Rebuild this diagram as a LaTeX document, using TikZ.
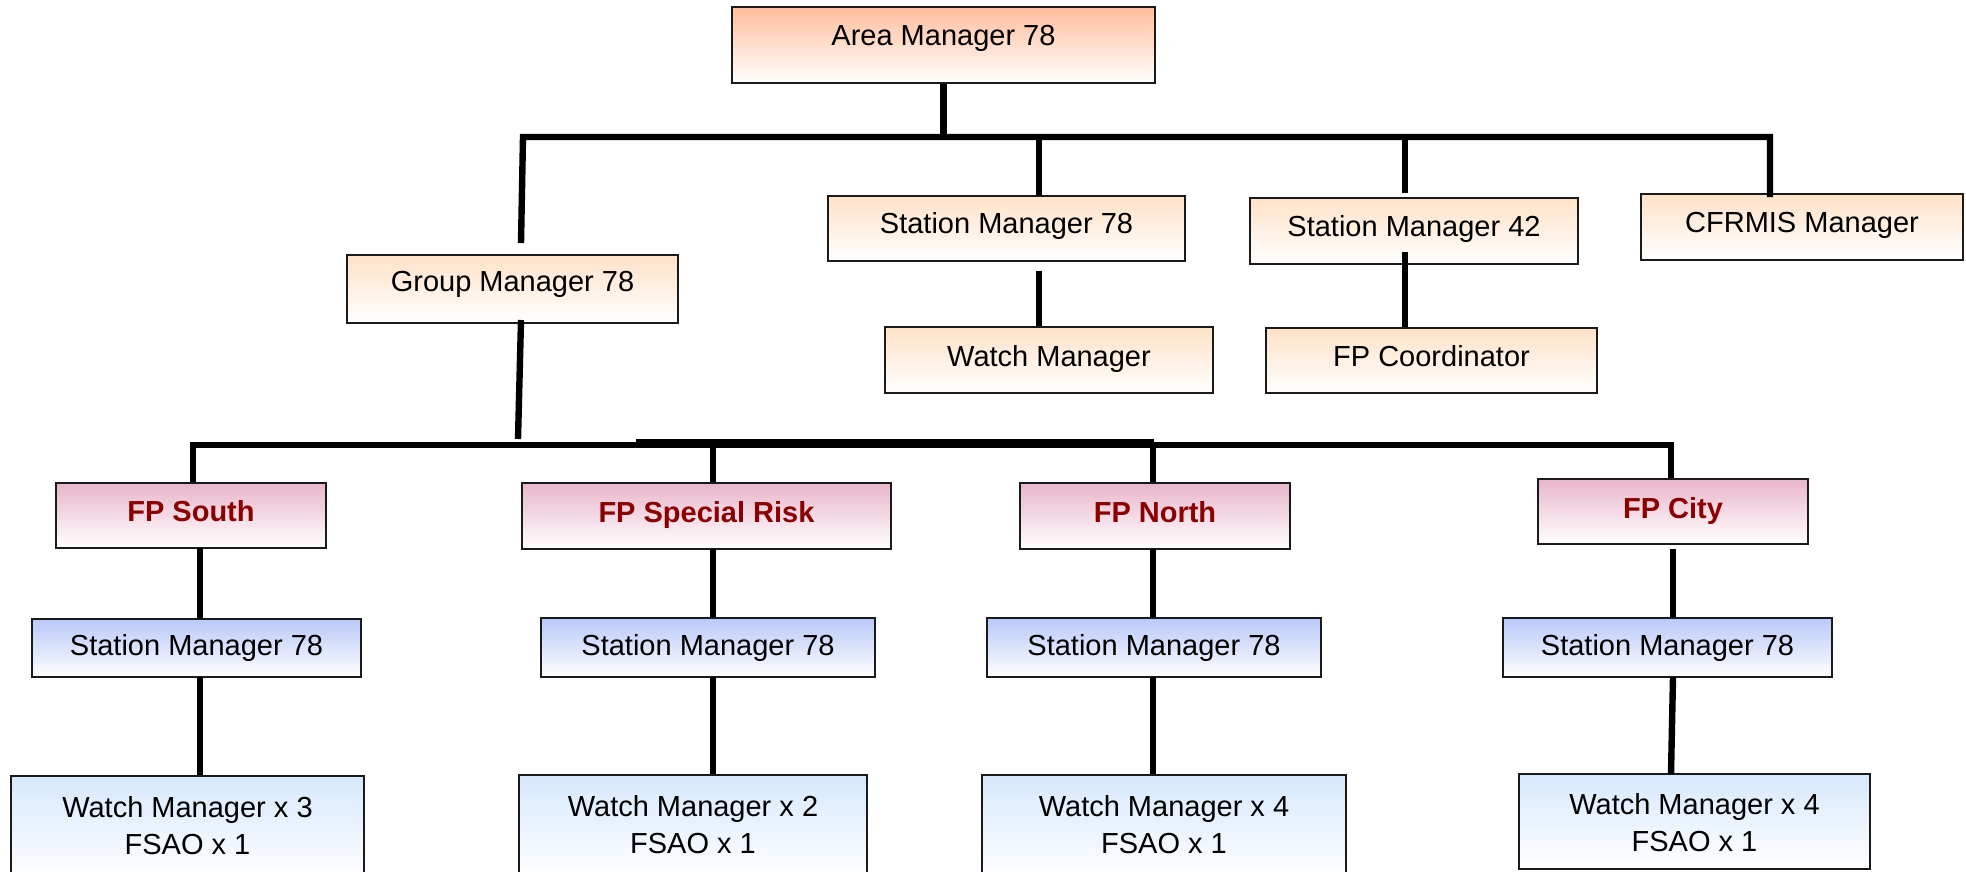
\documentclass[tikz,border=0pt]{standalone}
\usepackage{fontspec}
\setmainfont{Liberation Sans}
\definecolor{amtop}{HTML}{FFBE9C}
\definecolor{peach}{HTML}{FFE2C8}
\definecolor{fppink}{HTML}{E8B6CB}
\definecolor{lav}{HTML}{B8C8F9}
\definecolor{sky}{HTML}{D6E8FC}
\definecolor{fpred}{HTML}{8B0000}
\definecolor{edge}{HTML}{1A1A1A}
\tikzset{
  base/.style={draw=edge, line width=1pt, inner sep=0pt, bottom color=white,
    font=\fontsize{14.5}{18.5}\selectfont, align=center, text=black},
  amb/.style={base, top color=amtop},
  pb/.style={base, top color=peach},
  fpb/.style={base, top color=fppink, text=fpred, font=\fontsize{14.5}{18.5}\selectfont\bfseries},
  smb/.style={base, top color=lav},
  wmb/.style={base, top color=sky},
  conn/.style={line width=3.2pt, black, line join=miter},
}
% name, x1, y1, x2, y2, style, baseline drop below centre (pt), text
\newcommand\bx[8]{\node[#6, minimum width={(#4-#2)*0.5pt}, minimum height={(#5-#3)*0.5pt}] (#1) at ({(#2+#4)/2},{(#3+#5)/2}) {\raisebox{-#7pt}[0pt][0pt]{#8}};}
\newcommand\twolines[2]{\begin{tabular}[b]{@{}c@{}}#1\\#2\end{tabular}}
\begin{document}
\begin{tikzpicture}[x=0.5pt,y=-0.5pt]
\useasboundingbox (0,0) rectangle (1966,872);
\clip (0,0) rectangle (1966,872);
% top level
\bx{am}{732}{7}{1155}{83}{amb}{0.2}{Area Manager 78}
\bx{gm}{347}{255}{678}{323}{pb}{1.4}{Group Manager 78}
\bx{smt}{828}{196}{1185}{261}{pb}{2.5}{Station Manager 78}
\bx{wmt}{885}{327}{1213}{393}{pb}{3.0}{Watch Manager}
\bx{sm42}{1250}{198}{1578}{264}{pb}{2.8}{Station Manager 42}
\bx{fpco}{1266}{328}{1597}{393}{pb}{2.8}{FP Coordinator}
\bx{cfr}{1641}{194}{1963}{260}{pb}{2.5}{CFRMIS Manager}
% FP row
\bx{fps}{56}{483}{326}{548}{fpb}{3.1}{FP South}
\bx{fpsr}{522}{483}{891}{549}{fpb}{3.3}{FP Special Risk}
\bx{fpn}{1020}{483}{1290}{549}{fpb}{3.3}{FP North}
\bx{fpc}{1538}{479}{1808}{544}{fpb}{3.7}{FP City}
% station managers
\bx{sms}{32}{619}{361}{677}{smb}{3.9}{Station Manager 78}
\bx{smsr}{541}{618}{875}{677}{smb}{3.8}{Station Manager 78}
\bx{smn}{987}{618}{1321}{677}{smb}{3.8}{Station Manager 78}
\bx{smc}{1503}{618}{1832}{677}{smb}{3.8}{Station Manager 78}
% watch managers
\bx{wms}{11}{776}{364}{880}{wmb}{13}{\twolines{Watch Manager x 3}{FSAO x 1}}
\bx{wmsr}{519}{775}{867}{880}{wmb}{13}{\twolines{Watch Manager x 2}{FSAO x 1}}
\bx{wmn}{982}{775}{1346}{880}{wmb}{13}{\twolines{Watch Manager x 4}{FSAO x 1}}
\bx{wmc}{1519}{774}{1870}{869}{wmb}{15.1}{\twolines{Watch Manager x 4}{FSAO x 1}}
% top connectors
\coordinate (b1L) at (523,137);
\coordinate (b1R) at (1770,137);
\coordinate (gmT) at (521,243);
\draw[conn] (am.south) -- (am.south |- b1L);
\draw[conn] (gmT) -- (b1L) -- (b1R) -- ([yshift=-2pt]b1R |- cfr.north);
\coordinate (t2) at (1039,137);
\draw[conn] (t2) -- (t2 |- smt.north);
\coordinate (w2) at (1039,271);
\draw[conn] (w2) -- (w2 |- wmt.north);
\coordinate (t3) at (1405,137);
\draw[conn, shorten >=2pt] (t3) -- (t3 |- sm42.north);
\coordinate (w3) at (1405,252);
\draw[conn] (w3) -- (w3 |- fpco.north);
% group manager to lower bus
\coordinate (gmB) at (521,320);
\coordinate (gmE) at (518,439);
\draw[conn] (gmB) -- (gmE);
\coordinate (b2L) at (193,445);
\coordinate (b2R) at (1671,445);
\coordinate (b2a) at (636,442);
\coordinate (b2b) at (1154,442);
\draw[conn] (b2L |- fps.north) -- (b2L) -- (b2R) -- (b2R |- fpc.north);
\draw[conn] (b2a) -- (b2b);
\coordinate (d2) at (713,445);
\draw[conn] (d2) -- (d2 |- fpsr.north);
\coordinate (d3) at (1153,445);
\draw[conn] (d3) -- (d3 |- fpn.north);
% lower columns
\coordinate (cs1) at (200,548);
\coordinate (cs2) at (200,677);
\draw[conn] (cs1) -- (cs1 |- sms.north);
\draw[conn] (cs2) -- (cs2 |- wms.north);
\coordinate (cr1) at (713,549);
\coordinate (cr2) at (713,677);
\draw[conn] (cr1) -- (cr1 |- smsr.north);
\draw[conn] (cr2) -- (cr2 |- wmsr.north);
\coordinate (cn1) at (1153,549);
\coordinate (cn2) at (1153,677);
\draw[conn] (cn1) -- (cn1 |- smn.north);
\draw[conn] (cn2) -- (cn2 |- wmn.north);
\coordinate (cc1) at (1673,549);
\coordinate (cc2) at (1673,677);
\coordinate (cc3) at (1671,774);
\draw[conn] (cc1) -- (cc1 |- smc.north);
\draw[conn] (cc2) -- (cc3);
\end{tikzpicture}
\end{document}
